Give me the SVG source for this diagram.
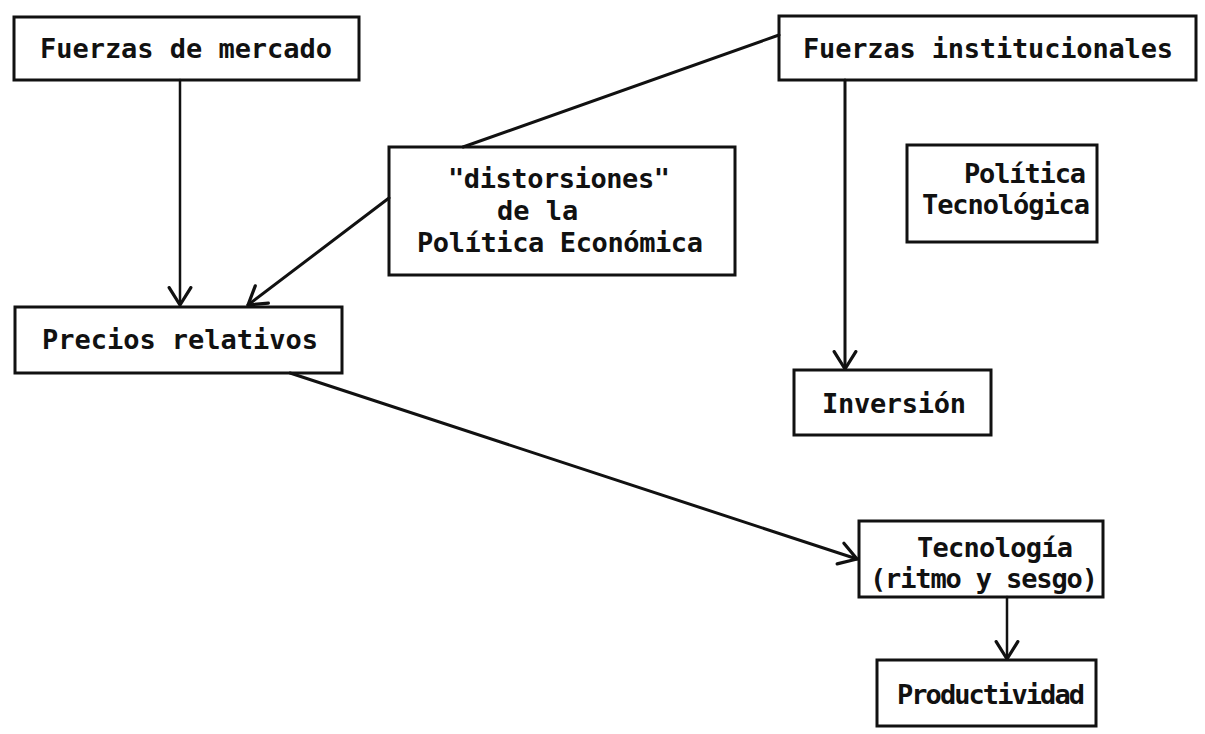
<svg xmlns="http://www.w3.org/2000/svg" width="1205" height="734" viewBox="0 0 1205 734">
<style>
.box{fill:none;stroke:#111;stroke-width:3}
.t{font-family:"DejaVu Sans Mono","Liberation Mono",monospace;font-size:27px;font-weight:bold;fill:#111}
.c{fill:none;stroke:#111;stroke-width:3;stroke-linecap:round}
</style>
<defs>
<marker id="ah" markerUnits="userSpaceOnUse" markerWidth="26" markerHeight="26" refX="18" refY="11" orient="auto" viewBox="0 0 24 22">
<path d="M2,1 L18,11 L2,21" fill="none" stroke="#111" stroke-width="3" stroke-linecap="round" stroke-linejoin="round"/>
</marker>
</defs>
<rect width="1205" height="734" fill="#fff"/>
<g id="connectors">
<line class="c" x1="180" y1="80" x2="180" y2="305" marker-end="url(#ah)" style="stroke-width:2.5"/>
<line class="c" x1="779" y1="35" x2="463" y2="147"/>
<line class="c" x1="389" y1="198" x2="248" y2="305" marker-end="url(#ah)"/>
<line class="c" x1="845" y1="80" x2="845" y2="369" marker-end="url(#ah)"/>
<line class="c" x1="290" y1="373" x2="857" y2="559" marker-end="url(#ah)"/>
<line class="c" x1="1007" y1="597" x2="1007" y2="659" marker-end="url(#ah)" style="stroke-width:2.5"/>
</g>
<g id="n_mercado">
<rect class="box" x="14" y="17" width="345" height="63"/>
<text class="t" x="40" y="58" textLength="292">Fuerzas de mercado</text>
</g>
<g id="n_institucionales">
<rect class="box" x="779" y="16" width="417" height="64"/>
<text class="t" x="803" y="58" textLength="370">Fuerzas institucionales</text>
</g>
<g id="n_distorsiones">
<rect class="box" x="389" y="147" width="346" height="128"/>
<text class="t" x="448" y="188" textLength="222">"distorsiones"</text>
<text class="t" x="497" y="220">de la</text>
<text class="t" x="417" y="252" textLength="286">Política Económica</text>
</g>
<g id="n_politica_tec">
<rect class="box" x="907" y="145" width="190" height="97"/>
<text class="t" x="964" y="183" textLength="122">Política</text>
<text class="t" x="922" y="214" textLength="168">Tecnológica</text>
</g>
<g id="n_precios">
<rect class="box" x="15" y="307" width="327" height="66"/>
<text class="t" x="42" y="349" textLength="276">Precios relativos</text>
</g>
<g id="n_inversion">
<rect class="box" x="794" y="370" width="197" height="65"/>
<text class="t" x="822" y="413" textLength="144">Inversión</text>
</g>
<g id="n_tecnologia">
<rect class="box" x="859" y="521" width="244" height="76"/>
<text class="t" x="917" y="557" textLength="156">Tecnología</text>
<text class="t" x="870" y="588" textLength="228">(ritmo y sesgo)</text>
</g>
<g id="n_productividad">
<rect class="box" x="877" y="660" width="219" height="66"/>
<text class="t" x="897" y="704" textLength="188">Productividad</text>
</g>
</svg>
